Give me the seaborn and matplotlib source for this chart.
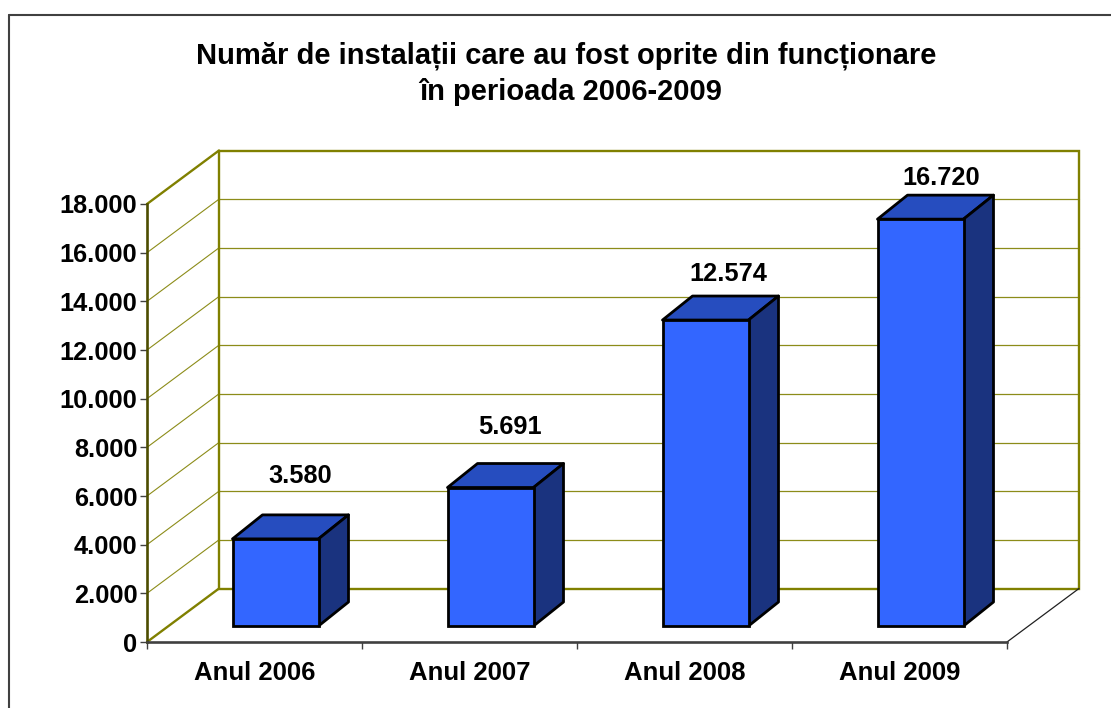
import matplotlib
matplotlib.use("Agg")
import matplotlib.pyplot as plt
import seaborn as sns
import pandas as pd
from matplotlib.lines import Line2D
from matplotlib.patches import Polygon

years = ["Anul 2006", "Anul 2007", "Anul 2008", "Anul 2009"]
installs = [3580, 5691, 12574, 16720]
value_labels = ["3.580", "5.691", "12.574", "16.720"]
y_ticks = [0, 2000, 4000, 6000, 8000, 10000, 12000, 14000, 16000, 18000]
y_tick_labels = ["0", "2.000", "4.000", "6.000", "8.000", "10.000", "12.000", "14.000", "16.000", "18.000"]

# hand placed labels in the original, offset from bar centre (pixels)
label_dx = [25, 19, 23, 21]
label_dy = [63, 61, 46, 41]

W, H = 1111, 708
OLIVE = "#808000"
FRONT = "#3366FF"
TOP = "#264DBF"
SIDE = "#1A337F"
DARK = "#404040"

sns.set_theme(style="white")
plt.rcParams["font.family"] = ["Liberation Sans", "DejaVu Sans"]
plt.rcParams["font.weight"] = "bold"


def px_axes(left, top, right, bottom):
    return [left / W, 1 - bottom / H, (right - left) / W, (bottom - top) / H]


fig = plt.figure(figsize=(W / 100, H / 100), dpi=100, facecolor="white")

# outer chart border, runs off the right and bottom of the image
fig.add_artist(Line2D([9 / W, 9 / W], [0, 1 - 15 / H], color=DARK, lw=1.5))
fig.add_artist(Line2D([9 / W, 1], [1 - 15 / H, 1 - 15 / H], color=DARK, lw=1.5))

# front plane of the chart, holds the axes
ax = fig.add_axes(px_axes(147, 204, 1007, 642))
ax.set_xlim(-0.5, 3.5)
ax.set_ylim(0, 18000)
ax.patch.set_alpha(0)
x0, x1 = -0.5, 3.5
depth_x = 72 / 215
depth_y = 53.5 / 438 * 18000

# back wall gridlines and side wall diagonals
for t in y_ticks[1:-1]:
    ax.plot([x0 + depth_x, x1 + depth_x], [t + depth_y] * 2, color=OLIVE, lw=0.9, alpha=0.9, clip_on=False, zorder=1)
    ax.plot([x0, x0 + depth_x], [t, t + depth_y], color=OLIVE, lw=0.8, alpha=0.9, clip_on=False, zorder=1)
wall = [(x0 + depth_x, depth_y), (x0 + depth_x, 18000 + depth_y), (x1 + depth_x, 18000 + depth_y), (x1 + depth_x, depth_y)]
ax.add_patch(Polygon(wall, closed=True, fill=False, edgecolor=OLIVE, lw=1.7, clip_on=False, zorder=2))
ax.plot([x0, x0 + depth_x], [0, depth_y], color=OLIVE, lw=1.7, clip_on=False, zorder=2)
ax.plot([x0, x0 + depth_x], [18000, 18000 + depth_y], color=OLIVE, lw=1.7, clip_on=False, zorder=2)
ax.plot([x1, x1 + depth_x], [0, depth_y], color="#202020", lw=0.9, clip_on=False, zorder=2)

for side in ["top", "right"]:
    ax.spines[side].set_visible(False)
ax.spines["left"].set_color("#4d4d00")
ax.spines["left"].set_linewidth(1.9)
ax.spines["bottom"].set_color(DARK)
ax.spines["bottom"].set_linewidth(1.9)
ax.set_yticks(y_ticks)
ax.set_yticklabels(y_tick_labels, fontsize=18.3, fontweight="bold", color="black")
ax.set_xticks([-0.5, 0.5, 1.5, 2.5, 3.5])
ax.set_xticklabels([])
ax.set_xticks(range(4), years, minor=True, fontsize=18.5, fontweight="bold", color="black")
ax.tick_params(axis="y", length=5, width=1, color=DARK, pad=2, left=True)
ax.tick_params(axis="x", which="major", length=5, width=1, color=DARK, bottom=True)
ax.tick_params(axis="x", which="minor", length=0, pad=14)

# bars sit on the floor, so they get their own axes shifted into the depth
ax_bars = fig.add_axes(px_axes(168, 188, 1028, 626))
df = pd.DataFrame({"year": years, "installs": installs})
sns.barplot(data=df, x="year", y="installs", color=FRONT, saturation=1, width=0.4, ax=ax_bars,
            edgecolor="black", linewidth=2, zorder=4)
ax_bars.set_xlim(-0.5, 3.5)
ax_bars.set_ylim(0, 18000)
ax_bars.axis("off")
ax_bars.patch.set_alpha(0)

bar_dx = 30 / 215
bar_dy = 24 / 438 * 18000
for i, bar in enumerate(ax_bars.patches):
    left = bar.get_x()
    right = left + bar.get_width()
    h = bar.get_height()
    top_face = [(left, h), (left + bar_dx, h + bar_dy), (right + bar_dx, h + bar_dy), (right, h)]
    side_face = [(right, 0), (right + bar_dx, bar_dy), (right + bar_dx, h + bar_dy), (right, h)]
    ax_bars.add_patch(Polygon(top_face, closed=True, facecolor=TOP, edgecolor="black", lw=2, joinstyle="round", clip_on=False, zorder=3))
    ax_bars.add_patch(Polygon(side_face, closed=True, facecolor=SIDE, edgecolor="black", lw=2, joinstyle="round", clip_on=False, zorder=3))
    bar.set_clip_on(False)
    ax_bars.annotate(value_labels[i], xy=(left + bar.get_width() / 2, h), xytext=(label_dx[i] * 0.72, label_dy[i] * 0.72),
                     textcoords="offset points", ha="center", va="center", fontsize=18.3, fontweight="bold",
                     color="black", annotation_clip=False)

fig.text(566 / W, 1 - 56 / H, "Număr de instalații care au fost oprite din funcționare",
         ha="center", va="center", fontsize=21, fontweight="bold", color="black")
fig.text(571 / W, 1 - 92 / H, "în perioada 2006-2009",
         ha="center", va="center", fontsize=21, fontweight="bold", color="black")

fig.savefig("out.png", dpi=100)
